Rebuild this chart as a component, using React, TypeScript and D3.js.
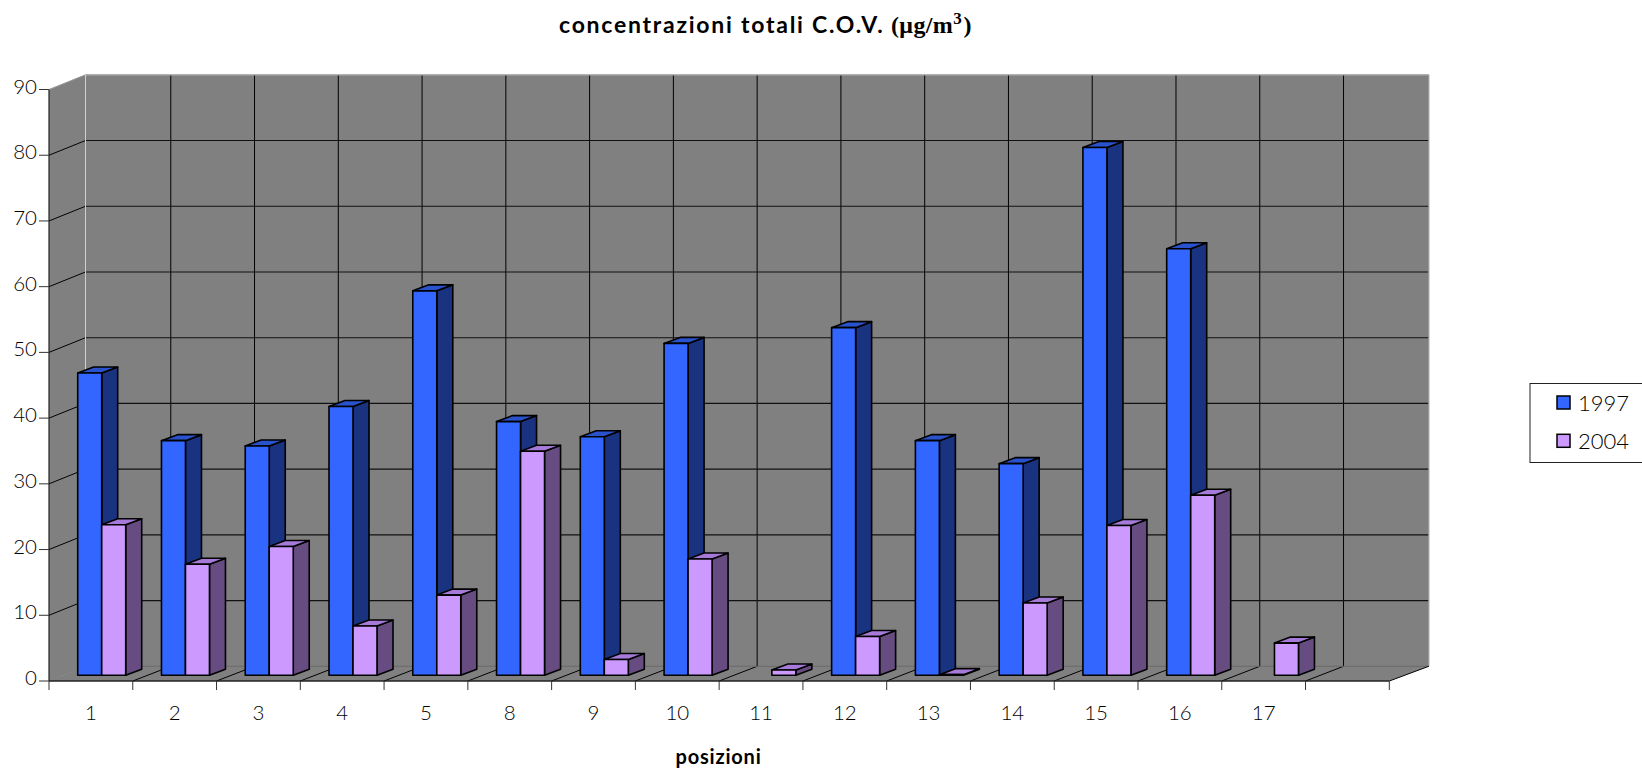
import React from "react";
import * as d3 from "d3";

const categories = ["1","2","3","4","5","8","9","10","11","12","13","14","15","16","17",""];
const values1997 = [46.0,35.7,34.9,40.9,58.5,38.6,36.3,50.5,null,52.9,35.7,32.2,80.3,64.9,null,null];
const values2004 = [22.9,16.9,19.6,7.5,12.2,34.1,2.4,17.7,0.8,5.9,0.1,11.0,22.8,27.4,4.9,null];
const yTicks = [0,10,20,30,40,50,60,70,80,90];
const seriesNames = ["1997","2004"];
const colors = {
  front: ["#3366FF","#CC99FF"],
  side: ["#1A3380","#664C80"],
  top: ["#2952CC","#A67AD9"],
};

const W = 1642, H = 772;
const FONT = "Lato, 'Open Sans', sans-serif";
const SERIF = "'Liberation Serif', serif";
const DX = 36.5, DY = 14.7;          // left wall depth
const GDX = 38;                      // depth of the grid lines on the back wall
const RDX = 39.5;                    // depth of the right edge of the back wall
const BDX = 16, BDY = 6;             // bar depth
const BAR_SHIFT_Y = 5.7;             // bar base above the front floor edge

const x = d3.scaleBand<number>().domain(d3.range(categories.length)).range([49, 1389.3]);
const y = d3.scaleLinear().domain([0, 90]).range([681, 89.5]);

const pts = (a: number[][]) => a.map(p => p.join(",")).join(" ");

function Bar({ i, s, v }: { i: number; s: number; v: number }) {
  const bw = 24;
  const x0 = (x(i) as number) + 28.7 + s * bw;
  const x1 = x0 + bw;
  const yb = y(0) - BAR_SHIFT_Y;
  const yt = yb - (y(0) - y(v));
  const common = { stroke: "#000", strokeWidth: 1.6, strokeLinejoin: "round" as const };
  return (
    <g>
      <polygon points={pts([[x1,yb],[x1+BDX,yb-BDY],[x1+BDX,yt-BDY],[x1,yt]])} fill={colors.side[s]} {...common} />
      <polygon points={pts([[x0,yt],[x1,yt],[x1+BDX,yt-BDY],[x0+BDX,yt-BDY]])} fill={colors.top[s]} {...common} />
      <rect x={x0} y={yt} width={bw} height={yb-yt} fill={colors.front[s]} {...common} />
    </g>
  );
}

export default function App() {
  const left = x.range()[0], right = x.range()[1], y0 = y(0), y90 = y(90);
  const xTicks = d3.range(categories.length + 1).map(i => left + i * x.bandwidth());
  return (
    <svg width={W} height={H} style={{ position: "absolute", left: 0, top: 0, background: "#fff" }}>
      {/* title */}
      <text x={559} y={33} fontFamily={FONT} fontWeight={700} fontSize={23} letterSpacing={1.75} fill="#000">
        concentrazioni totali C.O.V.
        <tspan fontFamily={SERIF} fontSize={24} letterSpacing={0.4}> (μg/m</tspan>
        <tspan fontFamily={SERIF} fontSize={17} dy={-9}>3</tspan>
        <tspan fontFamily={SERIF} fontSize={24} dy={9}>)</tspan>
      </text>

      {/* walls */}
      <polygon points={pts([[left,y90],[left+DX,y90-DY],[left+DX,y0-DY],[left,y0]])} fill="#808080" />
      <polygon points={pts([[left+DX,y0-DY],[right+RDX,y0-DY],[right,y0],[left,y0]])} fill="#808080" />
      <rect x={left+DX} y={y90-DY} width={right+RDX-left-DX} height={y0-y90} fill="#808080" />

      {/* vertical grid on back wall and floor */}
      {xTicks.slice(1,-1).map((t,i) => (
        <g key={i}>
          <line x1={t+GDX} x2={t+GDX} y1={y90-DY} y2={y0-DY} stroke="#000" strokeWidth={1} />
          <line x1={t} x2={t+GDX} y1={y0} y2={y0-DY} stroke="#000" strokeWidth={1} />
        </g>
      ))}
      {/* horizontal grid */}
      {yTicks.slice(1,-1).map(t => (
        <g key={t}>
          <line x1={left} x2={left+DX} y1={y(t)} y2={y(t)-DY} stroke="#000" strokeWidth={1} />
          <line x1={left+DX} x2={right+RDX} y1={y(t)-DY} y2={y(t)-DY} stroke="#111" strokeWidth={1.1} />
        </g>
      ))}
      <line x1={left} x2={left+DX} y1={y0} y2={y0-DY} stroke="#777" strokeWidth={1} strokeDasharray="2 1" />
      <line x1={left+DX} x2={right+RDX} y1={y0-DY} y2={y0-DY} stroke="#666" strokeWidth={1} />
      <line x1={left} x2={left+DX} y1={y90} y2={y90-DY} stroke="#999" strokeWidth={1} />
      <line x1={left+DX} x2={right+RDX} y1={y90-DY} y2={y90-DY} stroke="#b0b0b0" strokeWidth={1.4} />
      <line x1={left+DX} x2={left+DX} y1={y90-DY} y2={y0-DY} stroke="#d0d0d0" strokeWidth={1} />
      <line x1={right+RDX} x2={right+RDX} y1={y90-DY} y2={y0-DY} stroke="#999" strokeWidth={1.2} />
      <line x1={right} x2={right+RDX} y1={y0} y2={y0-DY} stroke="#000" strokeWidth={1} />

      {/* axes */}
      <line x1={left} x2={left} y1={y90} y2={y0} stroke="#222" strokeWidth={1.2} />
      <line x1={left} x2={right} y1={y0} y2={y0} stroke="#222" strokeWidth={1.5} />
      {yTicks.map(t => (
        <g key={t}>
          <line x1={39} x2={left} y1={y(t)} y2={y(t)} stroke="#333" strokeWidth={1} />
          <text x={37} y={y(t)+4} textAnchor="end" fontFamily={FONT} fontWeight={300} fontSize={20.5} fill="#000">{t}</text>
        </g>
      ))}
      {xTicks.map((t,i) => <line key={i} x1={t} x2={t} y1={y0} y2={y0+9} stroke="#333" strokeWidth={1} />)}
      {categories.map((c,i) => (
        <text key={i} x={(x(i) as number)+x.bandwidth()/2} y={720} textAnchor="middle" fontFamily={FONT} fontWeight={300} fontSize={20.5} fill="#000">{c}</text>
      ))}

      {/* bars */}
      {categories.map((_,i) => (
        <g key={i}>
          {values1997[i] != null && <Bar i={i} s={0} v={values1997[i] as number} />}
          {values2004[i] != null && <Bar i={i} s={1} v={values2004[i] as number} />}
        </g>
      ))}

      <text x={718.5} y={764} textAnchor="middle" fontFamily={FONT} fontWeight={700} fontSize={20} letterSpacing={0.8} fill="#000">posizioni</text>

      {/* legend */}
      <rect x={1530} y={383.5} width={130} height={79} fill="#fff" stroke="#222" strokeWidth={1} />
      {seriesNames.map((n,i) => (
        <g key={n}>
          <rect x={1557} y={396+i*38.3} width={13} height={13} fill={colors.front[i]} stroke="#000" strokeWidth={1.5} />
          <text x={1578} y={411+i*38.3} fontFamily={FONT} fontWeight={300} fontSize={22} fill="#000">{n}</text>
        </g>
      ))}
    </svg>
  );
}
